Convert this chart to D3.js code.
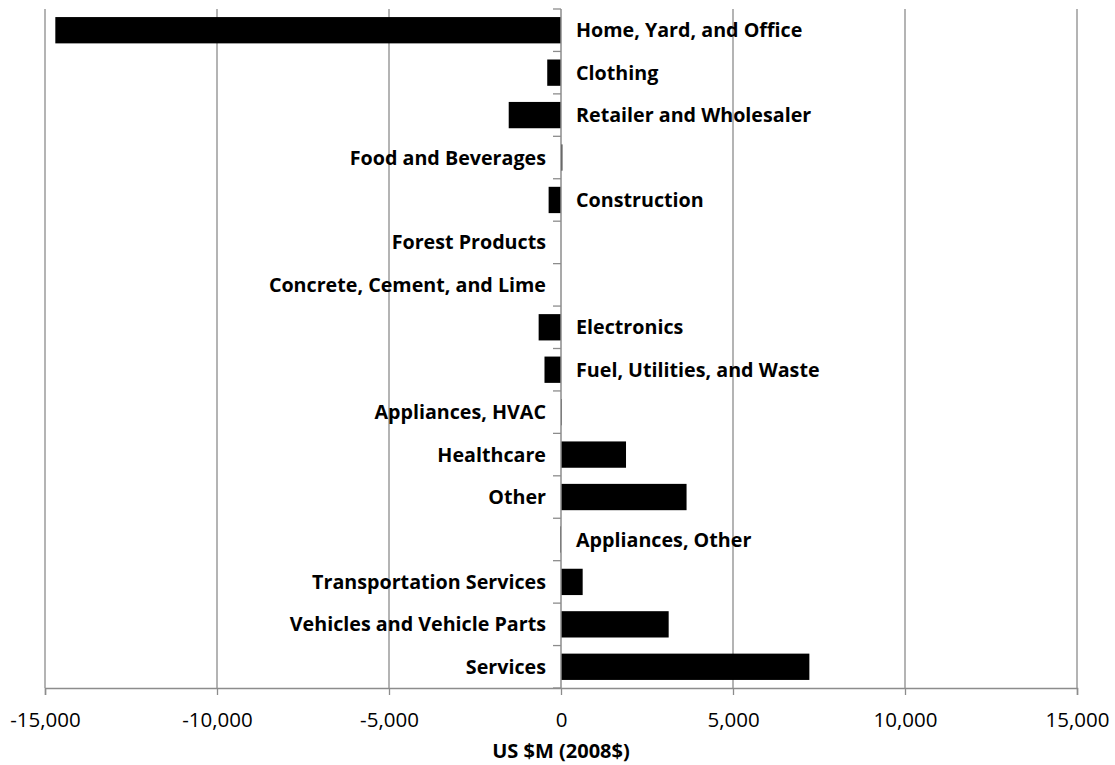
<!DOCTYPE html>
<html>
<head>
<meta charset="utf-8">
<script src="https://cdn.jsdelivr.net/npm/d3@7"></script>
<style>
  html, body { margin: 0; padding: 0; background: #fff; }
  svg { display: block; }
  text { font-family: "Open Sans", "Lato", sans-serif; }
</style>
</head>
<body>
<svg id="chart" width="1115" height="765"></svg>
<script>
// Change in spending by sector, US $M (2008$)
const categories = [
  "Home, Yard, and Office",
  "Clothing",
  "Retailer and Wholesaler",
  "Food and Beverages",
  "Construction",
  "Forest Products",
  "Concrete, Cement, and Lime",
  "Electronics",
  "Fuel, Utilities, and Waste",
  "Appliances, HVAC",
  "Healthcare",
  "Other",
  "Appliances, Other",
  "Transportation Services",
  "Vehicles and Vehicle Parts",
  "Services"
];
const values = [
  -14700, -400, -1520, 40, -360, 0, 0, -650, -480, 20,
  1890, 3650, -20, 630, 3130, 7220
];
const xTicks = [-15000, -10000, -5000, 0, 5000, 10000, 15000];
const axisTitle = "US $M (2008$)";

const svg = d3.select("#chart");
const margin = { top: 9, left: 45, right: 38, bottom: 77 };
const W = 1115, H = 765;
const plotBottom = H - margin.bottom;

const x = d3.scaleLinear()
  .domain([-15000, 15000])
  .range([margin.left, W - margin.right]);

const y = d3.scaleBand()
  .domain(categories)
  .range([margin.top, plotBottom])
  .paddingInner(0.38)
  .paddingOuter(0.19);

const gridColor = "#8c8c8c";

// vertical gridlines
svg.append("g")
  .selectAll("line")
  .data(xTicks.filter(d => d !== 0))
  .join("line")
  .attr("x1", d => x(d)).attr("x2", d => x(d))
  .attr("y1", margin.top).attr("y2", plotBottom)
  .attr("stroke", gridColor)
  .attr("stroke-width", 1.3);

// bars
svg.append("g")
  .selectAll("rect")
  .data(categories.map((c, i) => ({ c, v: values[i] })))
  .join("rect")
  .attr("x", d => x(Math.min(0, d.v)))
  .attr("width", d => Math.abs(x(d.v) - x(0)))
  .attr("y", d => y(d.c))
  .attr("height", y.bandwidth())
  .attr("fill", "#000");

// category labels, placed on the side opposite the bar
svg.append("g")
  .selectAll("text")
  .data(categories.map((c, i) => ({ c, v: values[i] })))
  .join("text")
  .attr("x", d => d.v < 0 ? x(0) + 15 : x(0) - 15)
  .attr("y", d => y(d.c) + y.bandwidth() / 2)
  .attr("dy", "0.36em")
  .attr("text-anchor", d => d.v < 0 ? "start" : "end")
  .attr("font-size", 19.7)
  .attr("font-weight", "bold")
  .attr("fill", "#000")
  .text(d => d.c);

// bottom value axis
const fmt = d3.format(",");
const xAxis = d3.axisBottom(x)
  .tickValues(xTicks)
  .tickSize(7)
  .tickPadding(17)
  .tickFormat(d => fmt(d).replace("\u2212", "-"));
const gx = svg.append("g")
  .attr("transform", `translate(0,${plotBottom})`)
  .call(xAxis);
gx.select(".domain").attr("stroke", gridColor).attr("stroke-width", 1.5);
gx.selectAll(".tick line").attr("stroke", gridColor).attr("stroke-width", 1.3);
gx.selectAll(".tick text")
  .attr("font-size", 20.5)
  .attr("fill", "#000")
  .style("font-family", "'Open Sans', Lato, sans-serif");

// vertical category axis at zero, ticks at band boundaries
const boundaries = d3.range(categories.length + 1).map(i => margin.top + i * (plotBottom - margin.top) / categories.length);
svg.append("line")
  .attr("x1", x(0)).attr("x2", x(0))
  .attr("y1", margin.top).attr("y2", plotBottom)
  .attr("stroke", gridColor)
  .attr("stroke-width", 1.5);
svg.append("g")
  .selectAll("line")
  .data(boundaries)
  .join("line")
  .attr("x1", x(0) - 8).attr("x2", x(0))
  .attr("y1", d => d).attr("y2", d => d)
  .attr("stroke", gridColor)
  .attr("stroke-width", 1.3);

// axis title
svg.append("text")
  .attr("x", x(0))
  .attr("y", 758)
  .attr("text-anchor", "middle")
  .attr("font-size", 20)
  .attr("font-weight", "bold")
  .attr("fill", "#000")
  .text(axisTitle);
</script>
</body>
</html>
